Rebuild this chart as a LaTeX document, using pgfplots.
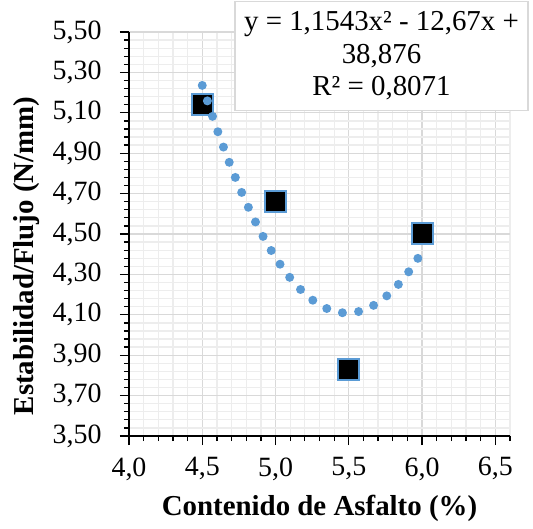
\documentclass[border=0pt]{standalone}
\usepackage{fontspec}
\setmainfont{Liberation Serif}
\usepackage{pgfplots}
\pgfplotsset{compat=1.18}
\definecolor{ptblue}{HTML}{5B9BD5}
\definecolor{majgrid}{HTML}{D9D9D9}
\definecolor{mingrid}{HTML}{EDEDED}
\begin{document}
\begin{tikzpicture}
\useasboundingbox (-129bp,-93bp) rectangle (404bp,436bp);
\begin{axis}[
  anchor=south west, at={(0,0)},
  scale only axis, width=381bp, height=404bp,
  xmin=4, xmax=6.6, ymin=3.5, ymax=5.5,
  xtick={4,4.5,5,5.5,6,6.5},
  minor xtick={4.1,4.2,4.3,4.4,4.6,4.7,4.8,4.9,5.1,5.2,5.3,5.4,5.6,5.7,5.8,5.9,6.1,6.2,6.3,6.4,6.6},
  ytick={3.5,3.7,3.9,4.1,4.3,4.5,4.7,4.9,5.1,5.3,5.5},
  minor y tick num=4,
  grid=both,
  major grid style={draw=majgrid, line width=1.3bp},
  minor grid style={draw=mingrid, line width=1.3bp},
  axis lines*=left,
  axis line style={black, line width=1.6bp},
  tick align=outside,
  major tick length=9bp, minor tick length=5bp,
  tick style={black, line width=1.3bp},
  /pgf/number format/assume math mode=true,
  /pgf/number format/use comma,
  /pgf/number format/fixed, /pgf/number format/fixed zerofill,
  xticklabel style={/pgf/number format/precision=1, font=\fontsize{28}{32}\selectfont, yshift=-9bp},
  yticklabel style={/pgf/number format/precision=2, font=\fontsize{28}{32}\selectfont, xshift=-15bp},
  xlabel={\textbf{Contenido de Asfalto (\%)}},
  ylabel={\textbf{Estabilidad/Flujo (N/mm)}},
  label style={font=\fontsize{29}{33}\selectfont},
  xlabel style={at={(axis description cs:0.5,-0.178)}, anchor=center},
  ylabel style={at={(axis description cs:-0.268,0.446)}, anchor=center, rotate=0},
  clip=false,
  clip marker paths=true,
]
\addplot[only marks, mark=square*, mark size=10.5bp, mark options={fill=black, draw=ptblue, line width=2bp}] coordinates {
(4.5,5.14) (5.0,4.66) (5.5,3.83) (6.0,4.50)
};
% polynomial trendline (values listed)
\addplot[ptblue, line width=9bp, line cap=round, dash pattern=on 0bp off 16.3bp, smooth, forget plot] coordinates {
(4.5,5.2356) (4.6,5.0190) (4.7,4.8255) (4.8,4.6551) (4.9,4.5077) (5.0,4.3835)
(5.1,4.2823) (5.2,4.2043) (5.3,4.1493) (5.4,4.1174) (5.5,4.1086) (5.6,4.1228)
(5.7,4.1602) (5.8,4.2207) (5.9,4.3042) (6.0,4.4108)
};
\end{axis}
\node[draw=majgrid, line width=1.5bp, fill=white, minimum width=293bp, minimum height=109bp, align=center, inner sep=2bp,
  font=\fontsize{29}{32.5}\selectfont] at (252.5bp,380bp)
  {y = 1,1543x² - 12,67x +\\38,876\\R² = 0,8071};
\end{tikzpicture}
\end{document}
